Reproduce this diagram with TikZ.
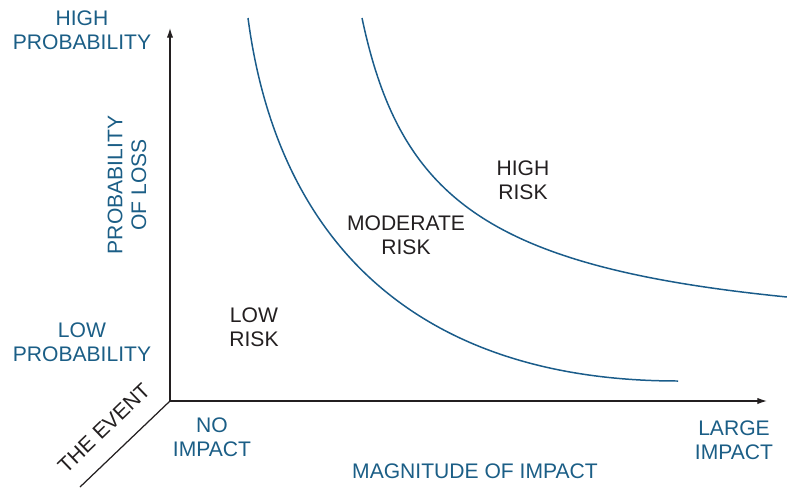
\documentclass[tikz,border=0pt]{standalone}
\usepackage{fontspec}
\setsansfont{Liberation Sans}
\usetikzlibrary{arrows.meta}

\definecolor{ink}{HTML}{231F20}
\definecolor{axisblue}{HTML}{1B5E86}
\definecolor{curveblue}{HTML}{1A5C8A}

\begin{document}
\begin{tikzpicture}[
  x=0.02cm,
  y=-0.02cm,
  font=\sffamily\fontsize{12}{13.6}\selectfont,
  axis/.style={draw=ink,line width=.7pt},
  axisarrow/.style={axis,-{Latex[length=5.5pt,width=3.6pt]}},
  bound/.style={draw=curveblue,line width=.85pt},
  axislabel/.style={text=axisblue,align=center,inner sep=0pt},
  risklabel/.style={text=ink,align=center,inner sep=0pt}
]
\useasboundingbox (0,0) rectangle (787,487);

% axes
\coordinate (origin) at (170,401);
\coordinate (ytip) at (170,28);
\coordinate (xtip) at (767,401);
\coordinate (evtend) at (80,487);
\draw[axisarrow] (origin) -- (ytip);
\draw[axisarrow] (origin) -- (xtip);
\draw[axis] (origin) -- (evtend);

% risk boundaries
\coordinate (lowtop) at (248,18);
\coordinate (lowend) at (678,381);
\coordinate (hightop) at (362,18);
\coordinate (highend) at (787,297);
\draw[bound] (lowtop) .. controls (279,253) and (428,381) .. (lowend);
\draw[bound] (hightop) .. controls (400,198) and (487,267) .. (highend);

% axis texts
\node[axislabel] (highprob) at (82,30) {HIGH\\PROBABILITY};
\node[axislabel] (lowprob) at (82,342) {LOW\\PROBABILITY};
\node[axislabel,rotate=90] (probloss) at (127,185) {PROBABILITY\\OF LOSS};
\node[axislabel] (noimpact) at (212,437) {NO\\IMPACT};
\node[axislabel] (largeimpact) at (734,440) {LARGE\\IMPACT};
\node[axislabel] (magnitude) at (475,471) {MAGNITUDE OF IMPACT};
\node[risklabel,rotate=44] (event) at (104,428) {THE EVENT};

% regions
\node[risklabel] (lowrisk) at (254,327) {LOW\\RISK};
\node[risklabel] (modrisk) at (406,235) {MODERATE\\RISK};
\node[risklabel] (highrisk) at (523,180) {HIGH\\RISK};
\end{tikzpicture}
\end{document}
